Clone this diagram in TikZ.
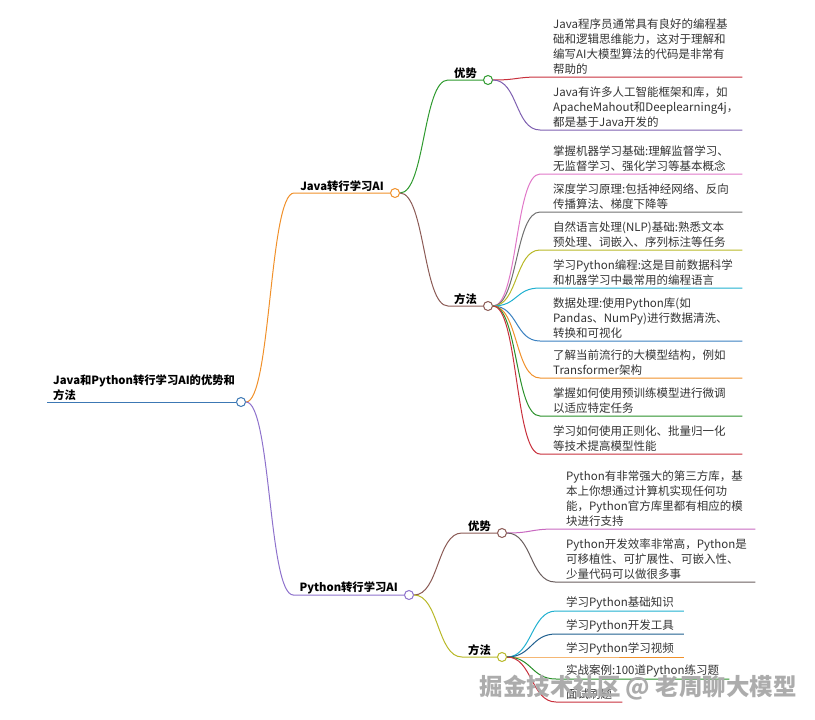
\documentclass[tikz,border=0pt]{standalone}
\usepackage{fontspec}
\setmainfont{Noto Sans CJK SC}
\usepackage{xcolor}
\usetikzlibrary{positioning}

\definecolor{rootblue}{HTML}{3C78B4}
\definecolor{jorange}{HTML}{F0902A}
\definecolor{jgreen}{HTML}{2E9A2E}
\definecolor{jbrown}{HTML}{8B5A55}
\definecolor{ppurple}{HTML}{8E72CC}
\definecolor{cred}{HTML}{C8303C}
\definecolor{cpurple}{HTML}{7E5FB0}
\definecolor{cpink}{HTML}{E078C8}
\definecolor{cgrey}{HTML}{707070}
\definecolor{colive}{HTML}{B8B828}
\definecolor{ccyan}{HTML}{20B0D0}
\definecolor{cblue}{HTML}{3A80C0}
\definecolor{cgreen}{HTML}{2A902A}
\definecolor{pmag}{HTML}{C868C0}
\definecolor{pgrey}{HTML}{6A5E5E}
\definecolor{pdblue}{HTML}{1F5F8F}

\tikzset{
  dot/.style={circle, draw, fill=white, line width=1pt, inner sep=0pt, minimum size=9pt},
  topic/.style={font=\fontsize{11.3}{15}\selectfont\bfseries, text=black, inner xsep=6pt, inner ysep=1pt, anchor=south east},
  leaf/.style={anchor=south west, align=left, font=\fontsize{11.5}{15}\selectfont, text=black!80, inner xsep=13pt, inner ysep=2pt},
  link/.style={line width=1pt},
}

\begin{document}
\begin{tikzpicture}[x=1pt, y=-1pt]
\useasboundingbox (0,0) rectangle (815,720);

% root
\node[dot, draw=rootblue] (root) at (241,402) {};
\node[topic, anchor=south west, align=left] (rootlab) at (47,402) {Java和Python转行学习AI的优势和\\方法};
\draw[link, rootblue] (rootlab.south west) -- (root.west);

% Java branch
\node[dot, draw=jorange] (java) at (395,193) {};
\node[topic] (javalab) at (java.west) {Java转行学习AI};
\draw[link, jorange] (root.east) .. controls +(25,0) and +(-25,0) .. (javalab.south west) -- (java.west);

\node[dot, draw=jgreen] (jadv) at (488,80) {};
\node[topic] (jadvlab) at (jadv.west) {优势};
\draw[link, jgreen] (java.east) .. controls +(25,0) and +(-25,0) .. (jadvlab.south west) -- (jadv.west);

\node[dot, draw=jbrown] (jmeth) at (488,306) {};
\node[topic] (jmethlab) at (jmeth.west) {方法};
\draw[link, jbrown] (java.east) .. controls +(25,0) and +(-25,0) .. (jmethlab.south west) -- (jmeth.west);

\node[leaf, text width=176pt] (ja1) at (540,77) {Java程序员通常具有良好的编程基\\础和逻辑思维能力，这对于理解和\\编写AI大模型算法的代码是非常有\\帮助的};
\node[leaf, text width=176pt] (ja2) at (540,130) {Java有许多人工智能框架和库，如\\ApacheMahout和Deeplearning4j，\\都是基于Java开发的};
\draw[link, cred] (jadv.east) .. controls +(25,0) and +(-25,0) .. (ja1.south west) -- (ja1.south east);
\draw[link, cpurple] (jadv.east) .. controls +(25,0) and +(-25,0) .. (ja2.south west) -- (ja2.south east);

\node[leaf, text width=176pt] (jm1) at (540,174) {掌握机器学习基础:理解监督学习、\\无监督学习、强化学习等基本概念};
\node[leaf, text width=176pt] (jm2) at (540,212) {深度学习原理:包括神经网络、反向\\传播算法、梯度下降等};
\node[leaf, text width=176pt] (jm3) at (540,250) {自然语言处理(NLP)基础:熟悉文本\\预处理、词嵌入、序列标注等任务};
\node[leaf, text width=176pt] (jm4) at (540,288) {学习Python编程:这是目前数据科学\\和机器学习中最常用的编程语言};
\node[leaf, text width=176pt] (jm5) at (540,341) {数据处理:使用Python库(如\\Pandas、NumPy)进行数据清洗、\\转换和可视化};
\node[leaf, text width=176pt] (jm6) at (540,378) {了解当前流行的大模型结构，例如\\Transformer架构};
\node[leaf, text width=176pt] (jm7) at (540,416) {掌握如何使用预训练模型进行微调\\以适应特定任务};
\node[leaf, text width=176pt] (jm8) at (540,454) {学习如何使用正则化、批量归一化\\等技术提高模型性能};
\draw[link, cpink] (jmeth.east) .. controls +(25,0) and +(-25,0) .. (jm1.south west) -- (jm1.south east);
\draw[link, cgrey] (jmeth.east) .. controls +(25,0) and +(-25,0) .. (jm2.south west) -- (jm2.south east);
\draw[link, colive] (jmeth.east) .. controls +(25,0) and +(-25,0) .. (jm3.south west) -- (jm3.south east);
\draw[link, ccyan] (jmeth.east) .. controls +(25,0) and +(-25,0) .. (jm4.south west) -- (jm4.south east);
\draw[link, cblue] (jmeth.east) .. controls +(25,0) and +(-25,0) .. (jm5.south west) -- (jm5.south east);
\draw[link, jorange] (jmeth.east) .. controls +(25,0) and +(-25,0) .. (jm6.south west) -- (jm6.south east);
\draw[link, cgreen] (jmeth.east) .. controls +(25,0) and +(-25,0) .. (jm7.south west) -- (jm7.south east);
\draw[link, cred] (jmeth.east) .. controls +(25,0) and +(-25,0) .. (jm8.south west) -- (jm8.south east);

% Python branch
\node[dot, draw=ppurple] (py) at (409,595) {};
\node[topic] (pylab) at (py.west) {Python转行学习AI};
\draw[link, ppurple] (root.east) .. controls +(25,0) and +(-25,0) .. (pylab.south west) -- (py.west);

\node[dot, draw=jbrown] (padv) at (502,533) {};
\node[topic] (padvlab) at (padv.west) {优势};
\draw[link, jbrown] (py.east) .. controls +(25,0) and +(-25,0) .. (padvlab.south west) -- (padv.west);

\node[dot, draw=colive] (pmeth) at (502,657) {};
\node[topic] (pmethlab) at (pmeth.west) {方法};
\draw[link, colive] (py.east) .. controls +(25,0) and +(-25,0) .. (pmethlab.south west) -- (pmeth.west);

\node[leaf, text width=178pt, inner xsep=11pt] (pa1) at (555,529) {Python有非常强大的第三方库，基\\本上你想通过计算机实现任何功\\能，Python官方库里都有相应的模\\块进行支持};
\node[leaf, text width=178pt, inner xsep=11pt] (pa2) at (555,582) {Python开发效率非常高，Python是\\可移植性、可扩展性、可嵌入性、\\少量代码可以做很多事};
\draw[link, pmag] (padv.east) .. controls +(25,0) and +(-25,0) .. (pa1.south west) -- (pa1.south east);
\draw[link, pgrey] (padv.east) .. controls +(25,0) and +(-25,0) .. (pa2.south west) -- (pa2.south east);

\node[leaf, inner xsep=10pt] (pm1) at (556,611) {学习Python基础知识};
\node[leaf, inner xsep=10pt] (pm2) at (556,634) {学习Python开发工具};
\node[leaf, inner xsep=10pt] (pm3) at (556,657) {学习Python学习视频};
\node[leaf, inner xsep=10pt] (pm4) at (556,679) {实战案例:100道Python练习题};
\node[leaf, inner xsep=10pt] (pm5) at (556,702) {面试刷题};
\draw[link, ccyan] (pmeth.east) .. controls +(25,0) and +(-25,0) .. (pm1.south west) -- (pm1.south east);
\draw[link, pdblue] (pmeth.east) .. controls +(25,0) and +(-25,0) .. (pm2.south west) -- (pm2.south east);
\draw[link, jorange] (pmeth.east) -- (pm3.south west) -- (pm3.south east);
\draw[link, cgreen] (pmeth.east) .. controls +(25,0) and +(-25,0) .. (pm4.south west) -- (pm4.south east);
\draw[link, cred] (pmeth.east) .. controls +(25,0) and +(-25,0) .. (pm5.south west) -- (pm5.south east);

% watermark
\node[font=\fontsize{23.5}{24}\selectfont\bfseries, text=gray!65, anchor=west] (mark) at (476,688) {掘金技术社区 @ 老周聊大模型};
\end{tikzpicture}
\end{document}
